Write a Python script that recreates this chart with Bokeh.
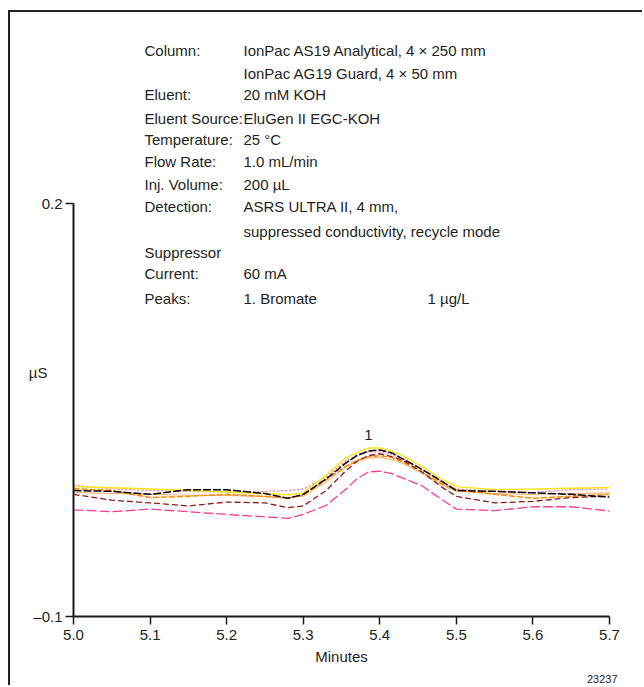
from bokeh.plotting import figure
from bokeh.models import (ColumnDataSource, FixedTicker, PrintfTickFormatter, Title, LinearAxis)
from bokeh.core.properties import value
from bokeh.embed import file_html
from bokeh.resources import INLINE

FONT = "Liberation Sans"
TXT = "#231f20"

# ---- data (µS vs minutes) ----
times = [5.00, 5.05, 5.10, 5.15, 5.20, 5.25, 5.28, 5.30, 5.33, 5.355, 5.37,
         5.385, 5.40, 5.415, 5.43, 5.455, 5.48, 5.50, 5.55, 5.60, 5.65, 5.70]

black = [-0.0085, -0.0091, -0.0113, -0.0079, -0.0079, -0.0107, -0.0141, -0.0113, -0.0001, 0.0112, 0.0168,
         0.0201, 0.0210, 0.0190, 0.0145, 0.0069, -0.0015, -0.0085, -0.0091, -0.0102, -0.0113, -0.0133]
yellow = [-0.0057, -0.0065, -0.0074, -0.0085, -0.0096, -0.0107, -0.0116, -0.0102, 0.0027, 0.0151, 0.0190,
          0.0224, 0.0224, 0.0201, 0.0168, 0.0089, -0.0001, -0.0057, -0.0079, -0.0074, -0.0068, -0.0063]
orange = [-0.0071, -0.0085, -0.0136, -0.0127, -0.0113, -0.0127, -0.0141, -0.0119, -0.0006, 0.0089, 0.0134,
          0.0162, 0.0168, 0.0156, 0.0123, 0.0050, -0.0034, -0.0079, -0.0113, -0.0141, -0.0127, -0.0113]
maroon = [-0.0113, -0.0155, -0.0175, -0.0197, -0.0169, -0.0175, -0.0209, -0.0197, -0.0085, 0.0055, 0.0126,
          0.0168, 0.0182, 0.0162, 0.0134, 0.0050, -0.0057, -0.0127, -0.0175, -0.0164, -0.0136, -0.0127]
hotpink = [-0.0225, -0.0239, -0.0220, -0.0239, -0.0259, -0.0276, -0.0287, -0.0259, -0.0192, -0.0079, -0.0001,
           0.0050, 0.0055, 0.0039, 0.0005, -0.0051, -0.0147, -0.0220, -0.0231, -0.0203, -0.0203, -0.0234]
lightpink = [-0.0046, -0.0074, -0.0085, -0.0091, -0.0096, -0.0091, -0.0085, -0.0074, 0.0013, 0.0128, 0.0173,
             0.0196, 0.0196, 0.0179, 0.0145, 0.0069, -0.0023, -0.0074, -0.0091, -0.0099, -0.0079, -0.0074]
salmon = [-0.0099, -0.0107, -0.0113, -0.0119, -0.0121, -0.0130, -0.0136, -0.0127, -0.0023, 0.0083, 0.0126,
          0.0151, 0.0154, 0.0140, 0.0112, 0.0039, -0.0043, -0.0091, -0.0107, -0.0113, -0.0107, -0.0102]

x_ticks = [5.0, 5.1, 5.2, 5.3, 5.4, 5.5, 5.6, 5.7]
y_ticks = [-0.1, 0.2]
y_tick_labels = {-0.1: "\u20130.1", 0.2: "0.2"}
y_unit = "\u00b5S"

info_labels = ["Column:", "", "Eluent:", "Eluent Source:", "Temperature:", "Flow Rate:",
               "Inj. Volume:", "Detection:", "", "Suppressor", "Current:", "Peaks:"]
info_values = ["IonPac AS19 Analytical, 4 \u00d7 250 mm", "IonPac AG19 Guard, 4 \u00d7 50 mm",
               "20 mM KOH", "EluGen II EGC-KOH", "25 \u00b0C", "1.0 mL/min", "200 \u00b5L",
               "ASRS ULTRA II, 4 mm,", "suppressed conductivity, recycle mode", "", "60 mA",
               "1. Bromate"]
info_y = [0.311, 0.2944, 0.2788, 0.262, 0.2467, 0.2301, 0.2139, 0.1978, 0.1796, 0.1642, 0.1489, 0.1307]
peak_amount = "1 \u00b5g/L"
peak_label = "1"
peak_time = 5.385

p = figure(width=634, height=675, x_range=(5.0, 5.7), y_range=(-0.1, 0.3365),
           output_backend="svg", toolbar_location=None,
           min_border_left=63, min_border_right=35, min_border_top=3, min_border_bottom=40,
           styles={"border-left": "2px solid #222222", "border-top": "2px solid #222222",
                   "margin-top": "10px", "margin-left": "8px"})
p.outline_line_color = None
p.grid.visible = False
p.background_fill_color = "white"

traces = [
    (lightpink, "#f27aae", "2 2", 1.3),
    (salmon, "#f7ab6e", "solid", 1.0),
    (yellow, "#ffe21a", "solid", 1.4),
    (orange, "#ff8a00", "6 2", 1.5),
    (maroon, "#8c1c1c", "6 3", 1.3),
    (hotpink, "#ff3d8e", "10 3", 1.3),
    (black, "#000000", "8 2", 1.5),
]
for ys, col, dash, w in traces:
    p.line(times, ys, line_color=col, line_dash=dash, line_width=w)

# axes
xa = p.xaxis[0]
xa.ticker = FixedTicker(ticks=x_ticks)
xa.formatter = PrintfTickFormatter(format="%.1f")
xa.bounds = (5.0, 5.7)
ya = p.yaxis[0]
ya.ticker = FixedTicker(ticks=y_ticks)
ya.major_label_overrides = y_tick_labels
ya.bounds = (-0.1, 0.2)
for ax in (xa, ya):
    ax.axis_line_width = 2
    ax.axis_line_color = "#1a1a1a"
    ax.major_tick_line_color = "#1a1a1a"
    ax.major_tick_line_width = 1.5
    ax.major_tick_out = 8
    ax.major_tick_in = 0
    ax.minor_tick_line_color = None
    ax.major_label_text_font = FONT
    ax.major_label_text_font_size = "15px"
    ax.major_label_text_color = TXT
    ax.axis_label_text_font = FONT
    ax.axis_label_text_font_style = "normal"
    ax.axis_label_text_font_size = "15px"
    ax.axis_label_text_color = TXT
xa.major_label_standoff = 5
xa.axis_label = "Minutes"
xa.axis_label_standoff = 5
ya.major_label_standoff = 3

# unit label on the left, as a bare second axis (blank lines push it below the frame centre)
mu = LinearAxis(ticker=FixedTicker(ticks=[]), axis_label="\n" * 6 + y_unit,
                axis_label_orientation="horizontal", axis_line_color=None,
                major_tick_line_color=None, minor_tick_line_color=None,
                major_tick_out=0, major_tick_in=0, axis_label_standoff=-17,
                axis_label_text_font=FONT, axis_label_text_font_style="normal",
                axis_label_text_font_size="15px", axis_label_text_color=TXT,
                axis_label_text_line_height=1.1)
p.add_layout(mu, "left")

p.add_layout(Title(text="23237", align="right", text_font=FONT, text_font_size="11px",
                   text_font_style="normal", text_color=TXT, offset=-8), "below")

# info block
src = ColumnDataSource(dict(xl=[5.0927] * len(info_labels), xv=[5.222] * len(info_values),
                            y=info_y, lab=info_labels, val=info_values))
common = dict(text_baseline="middle", text_font=value(FONT), text_font_size="15px", text_color=TXT)
p.text(x="xl", y="y", text="lab", source=src, **common)
p.text(x="xv", y="y", text="val", source=src, **common)
p.text(x=[5.4623], y=[info_y[-1]], text=[peak_amount], **common)
p.text(x=[peak_time], y=[0.0315], text=[peak_label], text_align="center", text_baseline="middle",
       text_font=value(FONT), text_font_size="15px", text_color=TXT)

open("out.html", "w").write(file_html(p, INLINE))
